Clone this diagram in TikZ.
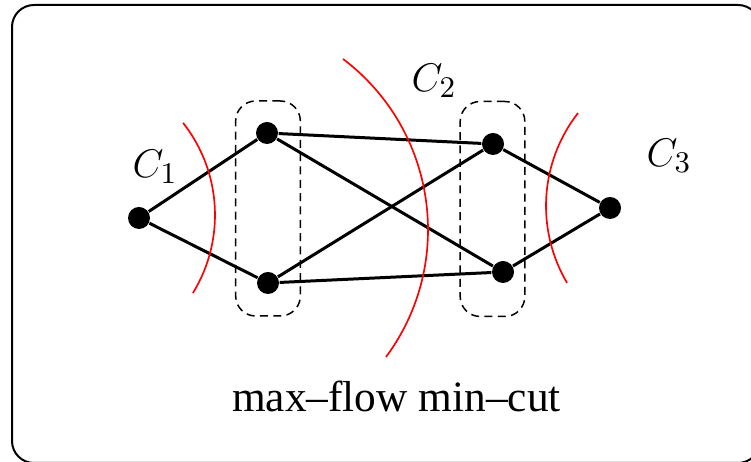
\documentclass[tikz,border=0pt]{standalone}
\usepackage[no-math]{fontspec}
\setmainfont{Liberation Serif}
\usetikzlibrary{positioning}

\begin{document}
\begin{tikzpicture}[
  x=0.3pt,y=-0.3pt,
  vertex/.style={circle,fill=black,inner sep=0pt,minimum size=6.6pt},
  link/.style={line width=.9pt},
  group/.style={draw,dash pattern=on 2.4pt off 1.6pt,line width=.45pt,
    rounded corners=6pt,minimum width=19.4pt,minimum height=64.5pt,inner sep=0pt},
  cut/.style={draw=red,line width=.5pt},
  cutlabel/.style={font=\fontsize{12.5}{15}\selectfont,inner sep=0pt,anchor=base west}
]
\useasboundingbox (0,0) rectangle (751,462);
\clip (0,0) rectangle (751,462);
\draw[line width=.6pt,rounded corners=6.6pt] (12,5) rectangle (760,463);

% vertices
\node[vertex] (s) at (139,218) {};
\node[vertex] (a1) at (267,133) {};
\node[vertex] (a2) at (268,283) {};
\node[vertex] (b1) at (493,144) {};
\node[vertex] (b2) at (503,272) {};
\node[vertex] (t) at (610,208) {};

% dashed groups
\node[group] (g1) at (268,208.5) {};
\node[group] (g2) at (492.5,209) {};

\draw[link] (s)--(a1);
\draw[link] (s)--(a2);
\draw[link] (a1)--(b1);
\draw[link] (a1)--(b2);
\draw[link] (a2)--(b1);
\draw[link] (a2)--(b2);
\draw[link] (b1)--(t);
\draw[link] (b2)--(t);

% cuts
\coordinate (o1) at (66,215);
\coordinate (o2) at (214,229.7);
\coordinate (o3) at (697,206);
\draw[cut] (o1) ++(38.2:44.7pt) arc[start angle=38.2,end angle=-31.6,radius=44.7pt];
\draw[cut] (o2) ++(52.9:64.2pt) arc[start angle=52.9,end angle=-36.5,radius=64.2pt];
\draw[cut] (o3) ++(142:45.3pt) arc[start angle=142,end angle=210.6,radius=45.3pt];

\node[cutlabel] (c1) at (132,178) {$C_1$};
\node[cutlabel] (c2) at (411,91.7) {$C_2$};
\node[cutlabel] (c3) at (646,166.7) {$C_3$};

\node[font=\fontsize{13}{15}\selectfont,anchor=base,inner sep=0pt] (caption) at (396.5,412) {max--flow min--cut};
\end{tikzpicture}
\end{document}
